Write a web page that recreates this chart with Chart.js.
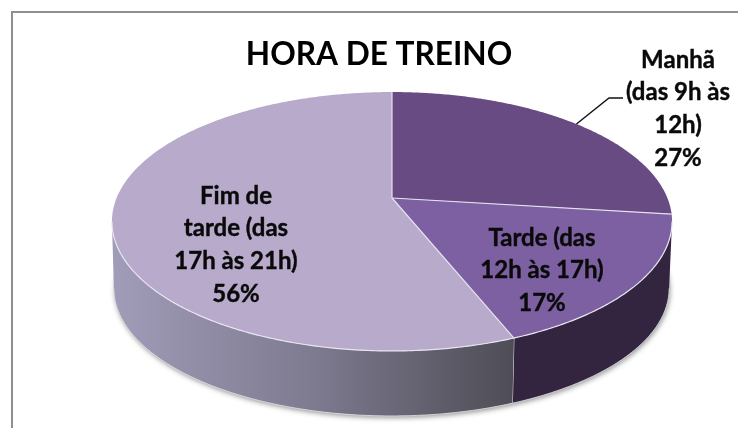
<!DOCTYPE html>
<html><head><meta charset="utf-8">
<style>html,body{margin:0;padding:0;background:#fff}#w{width:738px;height:428px}canvas{display:block}</style>
<script src="https://cdn.jsdelivr.net/npm/chart.js@4"></script></head>
<body><div id="w"><canvas id="c" width="738" height="428"></canvas></div>
<script>
const categories = ['Manhã (das 9h às 12h)', 'Tarde (das 12h às 17h)', 'Fim de tarde (das 17h às 21h)'];
const shares = [27, 17, 56];
const labelLines = [
  ['Manhã', '(das 9h às', '12h)', '27%'],
  ['Tarde (das', '12h às 17h)', '17%'],
  ['Fim de', 'tarde (das', '17h às 21h)', '56%']
];
const titleText = 'HORA DE TREINO';
const sliceColors = ['#674b82', '#7d60a2', '#b8aacb'];

const K = -0.1815;
const TOP = {cx: 392, cy: 198, rx: 275.4, ry: 125.2};
const LOW = {cx: 391.5, cy: 265.3, rx: 273, ry: 123.3};
const proj = (p, a) => {
  const u = Math.cos(a), v = Math.sin(a), d = 1 + K * v;
  return [p.cx + p.rx * u / d, p.cy + p.ry * v / d];
};
const trace = (ctx, p, a0, a1, first) => {
  const n = Math.max(2, Math.ceil(Math.abs(a1 - a0) / 0.01));
  for (let i = 0; i <= n; i++) {
    const q = proj(p, a0 + (a1 - a0) * i / n);
    if (i === 0 && first) ctx.moveTo(q[0], q[1]); else ctx.lineTo(q[0], q[1]);
  }
};
const FRONT0 = Math.asin(-K), FRONT1 = Math.PI - FRONT0;
const labelSpots = [
  {x: 678, y: 60, h: 32.7},
  {x: 542, y: 238, h: 32.7},
  {x: 236, y: 196, h: 32.7}
];

const pie3d = {
  id: 'pie3d',
  beforeDraw(chart) {
    const ctx = chart.ctx;
    ctx.save();
    ctx.strokeStyle = '#8f8f8f';
    ctx.lineWidth = 2;
    ctx.beginPath();
    ctx.moveTo(12, 428); ctx.lineTo(12, 12); ctx.lineTo(738, 12);
    ctx.stroke();
    ctx.restore();
  },
  beforeDatasetDraw(chart) {
    const ctx = chart.ctx, arcs = chart.getDatasetMeta(0).data;
    ctx.save();
    // soft shadow beneath the disc
    ctx.save();
    ctx.shadowColor = 'rgba(70,70,70,.55)';
    ctx.shadowBlur = 5; ctx.shadowOffsetX = 1; ctx.shadowOffsetY = 2;
    ctx.fillStyle = '#ddd';
    ctx.beginPath();
    trace(ctx, LOW, 0, Math.PI * 2, true);
    ctx.closePath(); ctx.fill();
    ctx.restore();

    const g = ctx.createLinearGradient(111, 0, 516, 0);
    g.addColorStop(0, '#a19cb8'); g.addColorStop(.5, '#7e7a90'); g.addColorStop(1, '#4e4c55');
    const sideFill = ['#4a3560', '#33243f', g];
    arcs.forEach((arc, i) => {
      const s = Math.max(arc.startAngle, FRONT0), e = Math.min(arc.endAngle, FRONT1);
      if (e <= s) return;
      ctx.beginPath();
      trace(ctx, TOP, s, e, true);
      trace(ctx, LOW, e, s, false);
      ctx.closePath();
      ctx.fillStyle = sideFill[i];
      ctx.fill();
      // thin pale rim along the bottom edge
      ctx.beginPath();
      trace(ctx, LOW, s, e, true);
      ctx.strokeStyle = 'rgba(225,225,225,.8)';
      ctx.lineWidth = 1;
      ctx.stroke();
      // seam between side faces
      if (e < FRONT1) {
        const t = proj(TOP, e), b = proj(LOW, e);
        ctx.beginPath(); ctx.moveTo(t[0], t[1]); ctx.lineTo(b[0], b[1]);
        ctx.strokeStyle = '#e8e6ea'; ctx.lineWidth = 1; ctx.stroke();
      }
    });
    arcs.forEach(arc => {
      ctx.beginPath();
      ctx.moveTo(TOP.cx, TOP.cy);
      trace(ctx, TOP, arc.startAngle, arc.endAngle, false);
      ctx.closePath();
      ctx.fillStyle = arc.options.backgroundColor;
      ctx.fill();
    });
    // pale edges on the top face
    arcs.forEach(arc => {
      ctx.beginPath();
      ctx.moveTo(TOP.cx, TOP.cy);
      const q = proj(TOP, arc.startAngle);
      ctx.lineTo(q[0], q[1]);
      ctx.strokeStyle = '#e6e1ee'; ctx.lineWidth = 1.2; ctx.stroke();
    });
    ctx.beginPath();
    trace(ctx, TOP, FRONT0, FRONT1, true);
    ctx.strokeStyle = '#e9e5f0'; ctx.lineWidth = 1.2; ctx.stroke();
    ctx.restore();
    return false;
  },
  afterDatasetsDraw(chart) {
    const ctx = chart.ctx;
    ctx.save();
    // leader line from the middle of the first slice's rim
    const first = chart.getDatasetMeta(0).data[0];
    const m = proj(TOP, (first.startAngle + first.endAngle) / 2);
    ctx.strokeStyle = '#111'; ctx.lineWidth = 1.4;
    ctx.beginPath();
    ctx.moveTo(m[0], m[1]); ctx.lineTo(609, 98); ctx.lineTo(623, 98);
    ctx.stroke();
    ctx.font = 'bold 24px Lato';
    ctx.fillStyle = '#0a0a0a';
    ctx.strokeStyle = '#0a0a0a';
    ctx.lineWidth = 0.4;
    ctx.textAlign = 'center';
    ctx.textBaseline = 'middle';
    labelLines.forEach((lines, i) => {
      const s = labelSpots[i];
      lines.forEach((t, j) => {
        ctx.fillText(t, s.x, s.y + j * s.h);
        ctx.strokeText(t, s.x, s.y + j * s.h);
      });
    });
    ctx.restore();
  }
};

new Chart(document.getElementById('c'), {
  type: 'pie',
  data: {labels: categories, datasets: [{data: shares, backgroundColor: sliceColors}]},
  plugins: [pie3d],
  options: {
    responsive: false,
    animation: false,
    layout: {padding: {left: 20}},
    plugins: {
      legend: {display: false},
      tooltip: {enabled: false},
      title: {
        display: true, text: titleText, fullSize: false, color: '#000',
        font: {family: 'Lato', weight: 'bold', size: 31.6},
        padding: {top: 36, bottom: 10}
      }
    }
  }
});
</script></body></html>
